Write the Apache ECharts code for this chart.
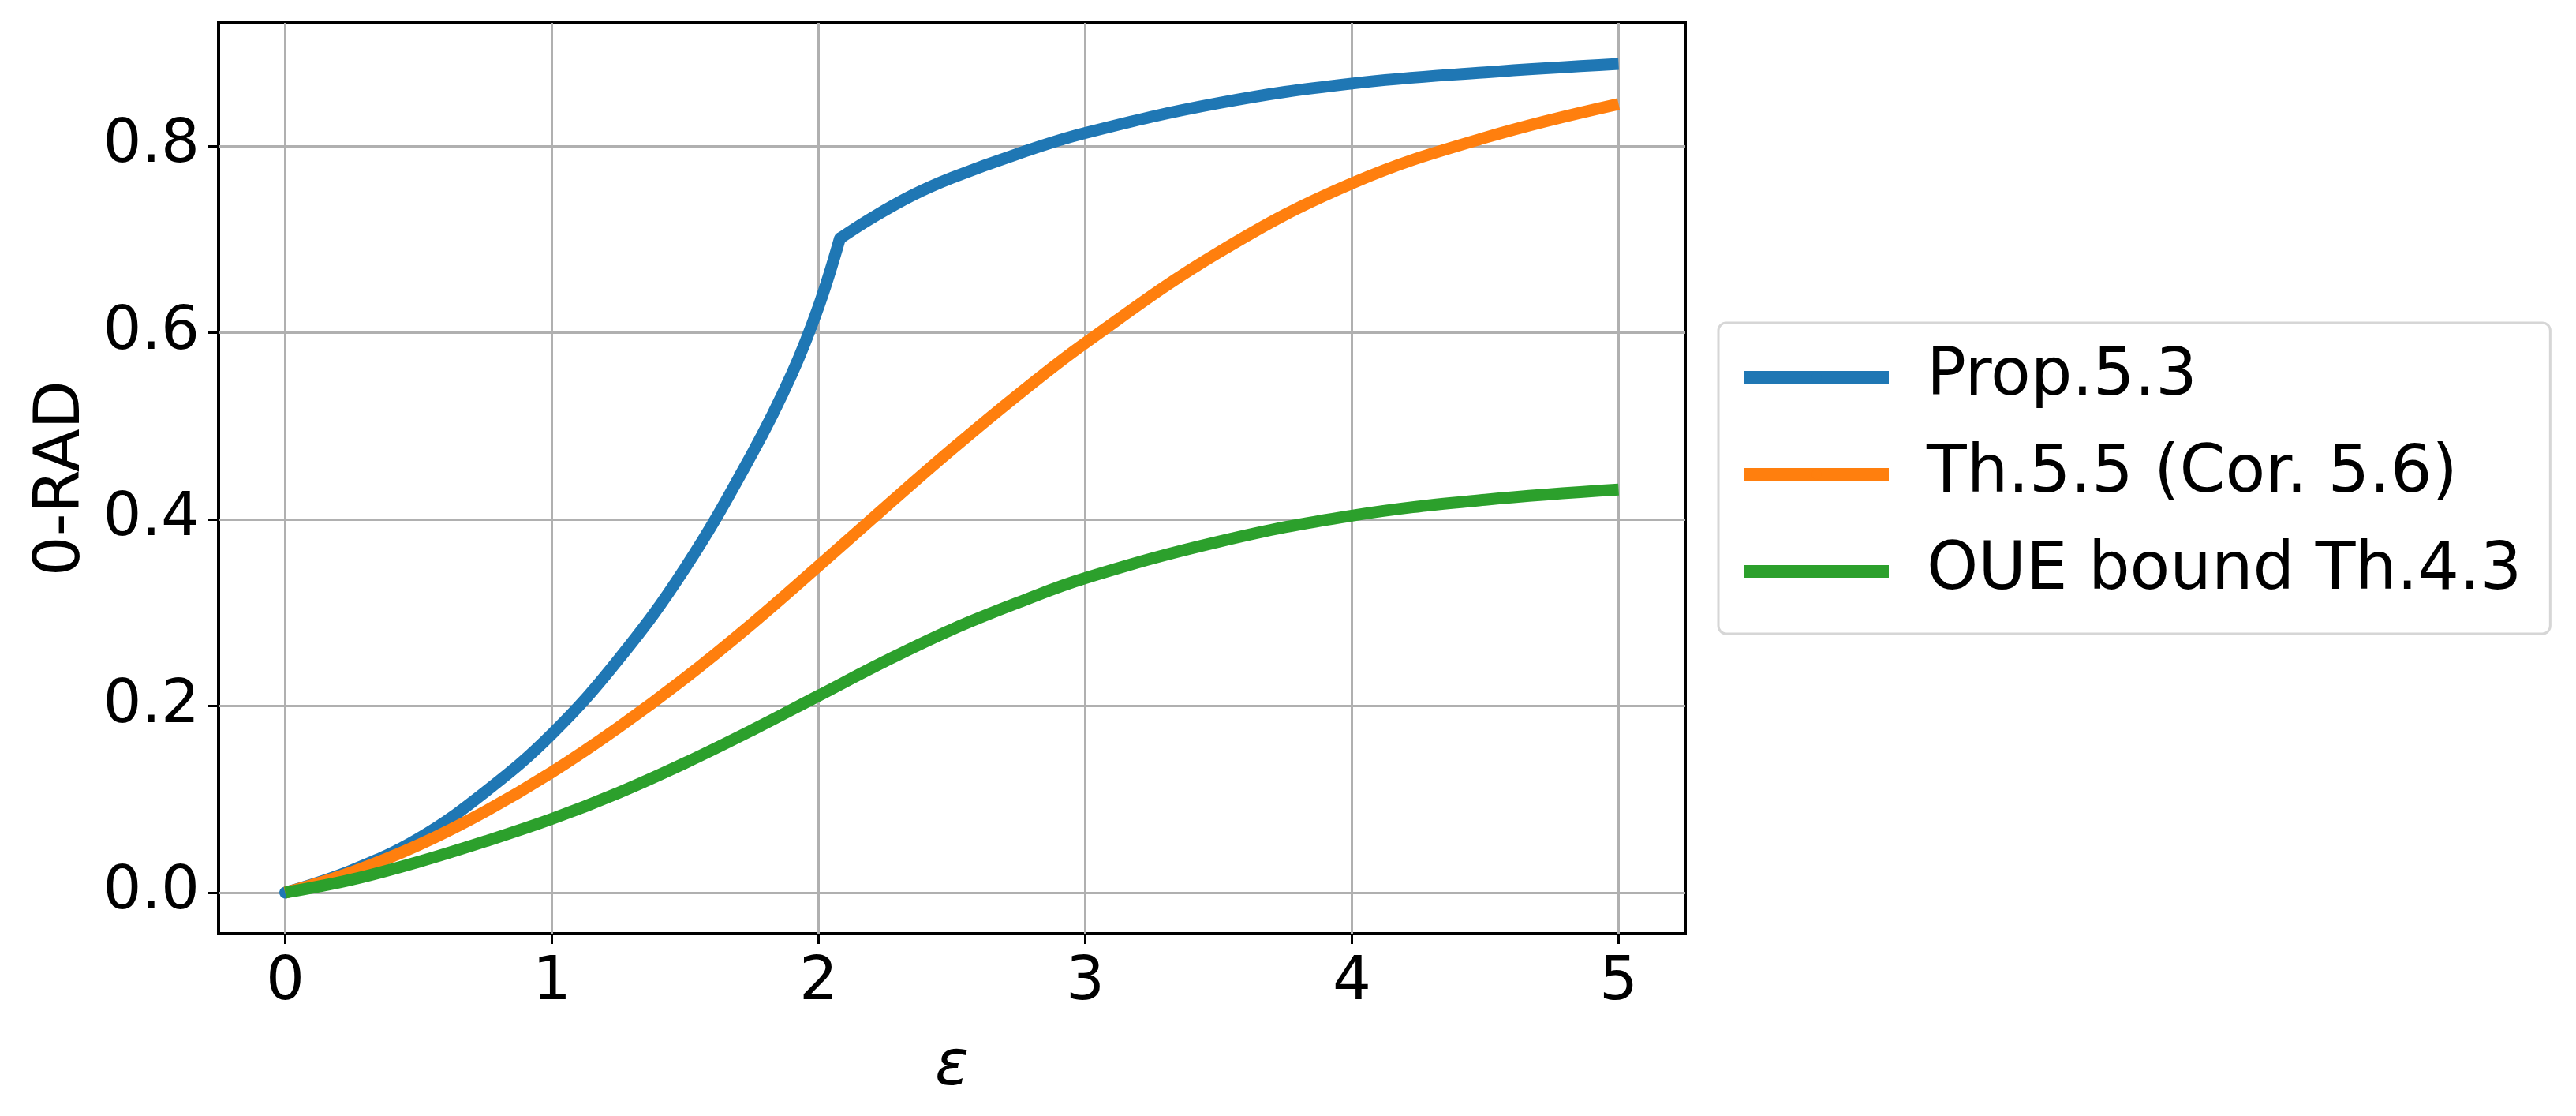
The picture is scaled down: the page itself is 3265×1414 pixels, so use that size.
<!DOCTYPE html>
<html>
<head>
<meta charset="utf-8">
<title>0-RAD</title>
<script src="https://cdn.jsdelivr.net/npm/echarts@6.0.0/dist/echarts.min.js"></script>
<style>
  html, body { margin: 0; padding: 0; background: #fff; }
  #main { width: 3265px; height: 1414px; }
</style>
</head>
<body>
<div id="main"></div>
<script type="text/javascript">
// eps values (x) for each curve
var epsProp = [0, 0.25, 0.5, 0.75, 1, 1.25, 1.5, 1.75, 1.9, 2, 2.08, 2.2, 2.35, 2.5, 2.75, 3, 3.5, 4, 4.5, 5];
var eps = [0, 0.25, 0.5, 0.75, 1, 1.25, 1.5, 1.75, 2, 2.25, 2.5, 2.75, 3, 3.5, 4, 4.5, 5];

var prop53 = [0, 0.024, 0.058, 0.108, 0.170, 0.250, 0.348, 0.470, 0.556, 0.628, 0.701, 0.723, 0.747, 0.766, 0.792, 0.814, 0.846, 0.867, 0.879, 0.888];
var th55 = [0, 0.022, 0.051, 0.087, 0.129, 0.177, 0.230, 0.288, 0.350, 0.413, 0.475, 0.534, 0.589, 0.686, 0.760, 0.809, 0.845];
var oue43 = [0, 0.014, 0.033, 0.055, 0.079, 0.107, 0.139, 0.174, 0.211, 0.248, 0.282, 0.311, 0.337, 0.376, 0.404, 0.421, 0.432];

// index of the kink in Prop.5.3 (eps = 2.08)
var kink = 10;

var names = ['Prop.5.3', 'Th.5.5 (Cor. 5.6)', 'OUE bound Th.4.3'];
var colors = ['#1f77b4', '#ff7f0e', '#2ca02c'];
var xTicks = [0, 1, 2, 3, 4, 5];
var yTicks = [0, 0.2, 0.4, 0.6, 0.8];

function pairs(xs, ys) {
    var out = [];
    for (var i = 0; i < xs.length; i++) {
        out.push([xs[i], ys[i]]);
    }
    return out;
}

var font = 'DejaVu Sans';
var myChart = echarts.init(document.getElementById('main'));

function makeLine(name, data, color, cap) {
    return {
        name: name,
        type: 'line',
        data: data,
        smooth: 0.4,
        symbol: 'none',
        color: color,
        lineStyle: { width: 15, color: color, cap: cap || 'butt', join: 'round' }
    };
}

var blue = pairs(epsProp, prop53);

var option = {
    backgroundColor: '#fff',
    animation: false,
    textStyle: { fontFamily: font },
    grid: {
        left: 277, top: 29, width: 1859, height: 1154,
        show: true, borderColor: '#000', borderWidth: 4, backgroundColor: 'transparent'
    },
    legend: {
        orient: 'vertical',
        left: 2178, top: 409,
        padding: [24, 36, 34, 25],
        itemWidth: 183, itemHeight: 16, itemGap: 33,
        borderColor: '#d6d6d6', borderWidth: 3, borderRadius: 10,
        backgroundColor: '#fff',
        lineStyle: { width: 16, cap: 'butt' },
        data: names,
        textStyle: { fontSize: 83, color: '#000', fontFamily: font, lineHeight: 90, padding: [0, 0, 0, 43] }
    },
    xAxis: {
        type: 'value',
        min: -0.25, max: 5.25,
        splitNumber: 5,
        name: 'ε',
        nameLocation: 'middle',
        nameGap: 130,
        nameTextStyle: { fontSize: 80, fontStyle: 'italic', color: '#000', fontFamily: font },
        axisLine: { show: false, onZero: false },
        axisTick: { show: true, length: 13, inside: false, customValues: xTicks, lineStyle: { color: '#000', width: 3 } },
        axisLabel: { customValues: xTicks, fontSize: 77, color: '#000', margin: 24, fontFamily: font },
        splitLine: { show: true, lineStyle: { color: '#b0b0b0', width: 3 } }
    },
    yAxis: {
        type: 'value',
        min: -0.044, max: 0.932,
        splitNumber: 5,
        name: '0-RAD',
        nameLocation: 'middle',
        nameGap: 140,
        nameRotate: 90,
        nameTextStyle: { fontSize: 80, color: '#000', fontFamily: font },
        axisLine: { show: false, onZero: false },
        axisTick: { show: true, length: 13, inside: false, customValues: yTicks, lineStyle: { color: '#000', width: 3 } },
        axisLabel: {
            customValues: yTicks, fontSize: 77, color: '#000', margin: 24, fontFamily: font,
            formatter: function (v) { return v.toFixed(1); }
        },
        splitLine: { show: true, lineStyle: { color: '#b0b0b0', width: 3 } }
    },
    series: [
        // Prop.5.3 drawn in two pieces so the corner at the kink stays sharp;
        // the round cap of the first piece fills the corner
        makeLine(names[0], blue.slice(0, kink + 1), colors[0], 'round'),
        makeLine(names[0], blue.slice(kink), colors[0], 'butt'),
        makeLine(names[1], pairs(eps, th55), colors[1]),
        makeLine(names[2], pairs(eps, oue43), colors[2])
    ]
};

myChart.setOption(option);
</script>
</body>
</html>
